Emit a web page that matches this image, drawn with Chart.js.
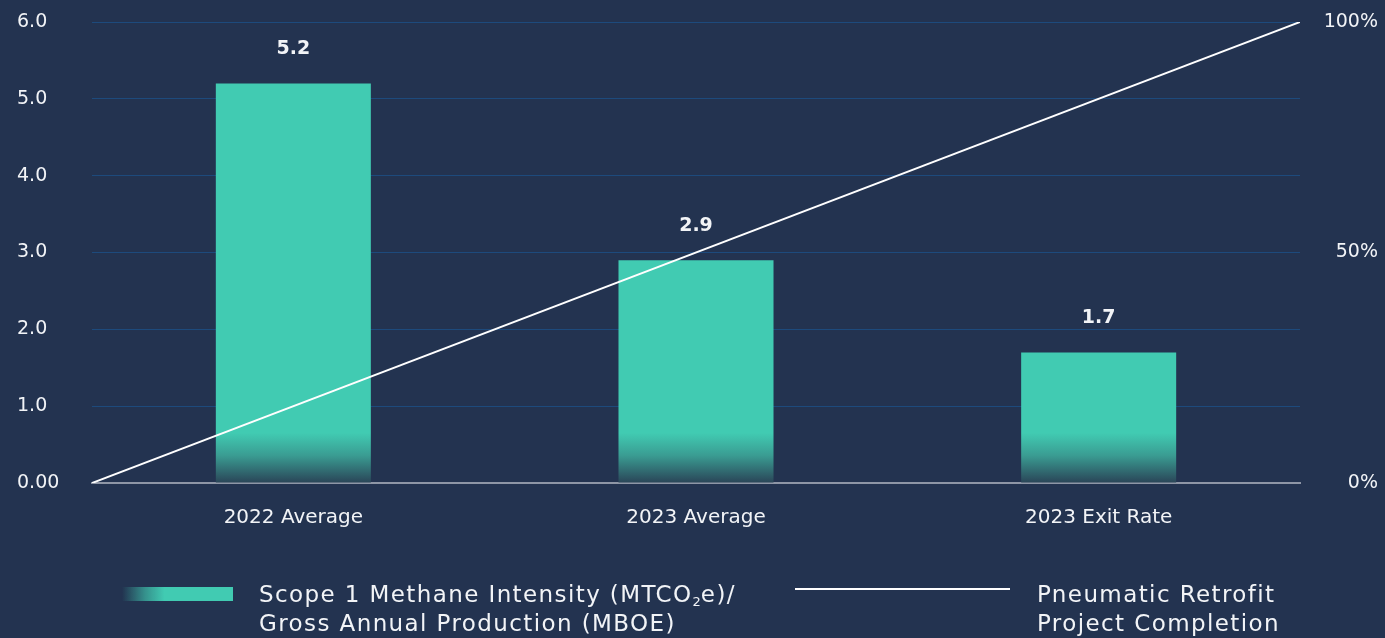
<!DOCTYPE html>
<html>
<head>
<meta charset="utf-8">
<script src="https://cdn.jsdelivr.net/npm/chart.js@4"></script>
<style>
  html, body { margin: 0; padding: 0; background: #233350; }
  #wrap { position: relative; width: 1385px; height: 638px; }
  canvas { position: absolute; left: 0; top: 0; }
  .legend { position: absolute; color: #f2f4f7; font-family: "DejaVu Sans", sans-serif; font-size: 23px; line-height: 29px; letter-spacing: 1.4px; }
  .swatch { position: absolute; }
  sub { font-size: 13px; vertical-align: -4px; line-height: 0; letter-spacing: 0; }
</style>
</head>
<body>
<div id="wrap">
  <canvas id="methaneChart" width="1385" height="638"></canvas>
  <div class="swatch" style="left:122px; top:587px; width:111px; height:14px; background:linear-gradient(to right, rgba(65,203,178,0) 0%, rgba(65,203,178,0.6) 20%, #41cbb2 38%, #41cbb2 100%);"></div>
  <div class="legend" style="left:259px; top:580px;">Scope 1 Methane Intensity (MTCO<sub>2</sub>e)/<br>Gross Annual Production (MBOE)</div>
  <div class="swatch" style="left:795px; top:588px; width:215px; height:2px; background:#ffffff;"></div>
  <div class="legend" style="left:1037px; top:580px;">Pneumatic Retrofit<br>Project Completion</div>
</div>
<script>
// Methane intensity per period and retrofit completion
const categories = ['2022 Average', '2023 Average', '2023 Exit Rate'];
const intensity = [5.2, 2.9, 1.7];
const completionX = [0, 1];
const completionPct = [0, 100];

const TEAL = '#41cbb2';
const TEXT = '#f2f4f7';
const FONT = 'DejaVu Sans';

// bars fade into the background near the axis
function barFill(context) {
    const area = context.chart.chartArea;
    if (!area) return TEAL;
    const g = context.chart.ctx.createLinearGradient(0, area.bottom, 0, area.bottom - 50);
    g.addColorStop(0, '#2a4457');
    g.addColorStop(0.55, '#3a9c92');
    g.addColorStop(1, TEAL);
    return g;
}

const valueLabels = {
    id: 'valueLabels',
    afterDatasetsDraw(chart) {
        const ctx = chart.ctx;
        const meta = chart.getDatasetMeta(0);
        ctx.save();
        ctx.fillStyle = TEXT;
        ctx.font = 'bold 19px "' + FONT + '", sans-serif';
        ctx.textAlign = 'center';
        ctx.textBaseline = 'middle';
        meta.data.forEach((bar, i) => {
            ctx.fillText(intensity[i].toFixed(1), bar.x, bar.y - 34);
        });
        ctx.restore();
    }
};

const ctx = document.getElementById('methaneChart').getContext('2d');
new Chart(ctx, {
    data: {
        labels: categories,
        datasets: [{
            type: 'bar',
            data: intensity,
            backgroundColor: barFill,
            barPercentage: 0.385,
            categoryPercentage: 1,
            grouped: false,
            yAxisID: 'y',
            xAxisID: 'x',
            order: 1
        }, {
            type: 'line',
            data: completionX.map((x, i) => ({ x: x, y: completionPct[i] })),
            borderColor: '#ffffff',
            borderWidth: 2,
            pointRadius: 0,
            fill: false,
            yAxisID: 'y1',
            xAxisID: 'xLine',
            order: 0
        }]
    },
    options: {
        responsive: false,
        animation: false,
        layout: { padding: { left: 17, right: 7, top: 22, bottom: 95 } },
        plugins: {
            legend: { display: false },
            tooltip: { enabled: false }
        },
        scales: {
            x: {
                grid: { display: false, drawTicks: false },
                border: { color: '#8e96a6', width: 2 },
                ticks: { color: TEXT, font: { family: FONT, size: 20 }, padding: 23 },
                afterFit: s => { s.height = 60; }
            },
            xLine: {
                type: 'linear',
                min: 0,
                max: 1,
                display: false
            },
            y: {
                position: 'left',
                min: 0,
                max: 6,
                ticks: {
                    stepSize: 1,
                    color: TEXT,
                    font: { family: FONT, size: 19 },
                    crossAlign: 'far',
                    callback: v => v === 0 ? '0.00' : v.toFixed(1)
                },
                grid: { color: '#1d4a7c', lineWidth: 1, drawTicks: false },
                border: { display: false },
                afterFit: s => { s.width = 75; }
            },
            y1: {
                position: 'right',
                min: 0,
                max: 100,
                ticks: {
                    stepSize: 50,
                    color: TEXT,
                    font: { family: FONT, size: 19 },
                    crossAlign: 'far',
                    callback: v => v + '%'
                },
                grid: { display: false, drawTicks: false },
                border: { display: false },
                afterFit: s => { s.width = 78; }
            }
        }
    },
    plugins: [valueLabels]
});
</script>
</body>
</html>
